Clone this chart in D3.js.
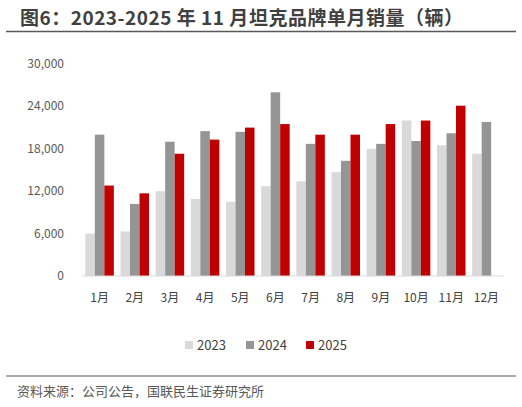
<!DOCTYPE html>
<html><head><meta charset="utf-8">
<script src="https://cdn.jsdelivr.net/npm/d3@7"></script>
<style>body{margin:0;background:#fff;font-family:"Noto Sans CJK SC","Noto Sans",sans-serif}</style>
</head><body><svg id="c" width="522" height="407"></svg>
<script>
const categories=["1月","2月","3月","4月","5月","6月","7月","8月","9月","10月","11月","12月"];
const s2023=[6000,6300,12000,10900,10500,12700,13400,14700,18000,22000,18500,17300];
const s2024=[20000,10200,19000,20500,20400,26000,18700,16300,18700,19100,20200,21800];
const s2025=[12800,11700,17300,19300,21000,21500,20000,20000,21500,22000,24100,null];
const seriesNames=["2023","2024","2025"];
const colors=["#d9d9d9","#959595","#c00000"];
const yTicks=[0,6000,12000,18000,24000,30000];
const series=[s2023,s2024,s2025];
const svg=d3.select("#c");
svg.append("text").attr("x",20).attr("y",25).attr("font-size",19).attr("font-weight","bold").attr("fill","#404040").attr("textLength",443).text("图6：2023-2025 年 11 月坦克品牌单月销量（辆）");
svg.append("line").attr("x1",6).attr("x2",516).attr("y1",31.5).attr("y2",31.5).attr("stroke","#595959").attr("stroke-width",1.5);
const x=d3.scaleBand().domain(categories).range([82,504]);
const y=d3.scaleLinear().domain([0,30000]).range([276,64]);
const g=svg.append("g");
yTicks.forEach(t=>{g.append("text").attr("x",64).attr("y",y(t)+4).attr("text-anchor","end").attr("font-size",12).attr("fill","#595959").text(d3.format(",")(t));});
const bw=9.5;
categories.forEach((c,i)=>{
  series.forEach((s,k)=>{
    if(s[i]==null)return;
    const cx=x(c)+x.bandwidth()/2+(k-1)*bw;
    g.append("rect").attr("x",cx-bw/2).attr("width",bw).attr("y",y(s[i])).attr("height",y(0)-y(s[i])).attr("fill",colors[k]);
  });
  g.append("text").attr("x",x(c)+x.bandwidth()/2).attr("y",302).attr("text-anchor","middle").attr("font-size",12).attr("fill","#404040").text(c);
});
g.append("line").attr("x1",82).attr("x2",504).attr("y1",y(0)).attr("y2",y(0)).attr("stroke","#d9d9d9");
const lx=[185,246,306];
seriesNames.forEach((n,k)=>{
  svg.append("rect").attr("x",lx[k]).attr("y",341).attr("width",8).attr("height",8).attr("fill",colors[k]);
  svg.append("text").attr("x",lx[k]+12).attr("y",350).attr("font-size",13).attr("fill","#404040").text(n);
});
svg.append("line").attr("x1",6).attr("x2",516).attr("y1",376).attr("y2",376).attr("stroke","#595959").attr("stroke-width",1.2);
svg.append("text").attr("x",17).attr("y",396).attr("font-size",13).attr("fill","#595959").text("资料来源：公司公告，国联民生证券研究所");
</script></body></html>
